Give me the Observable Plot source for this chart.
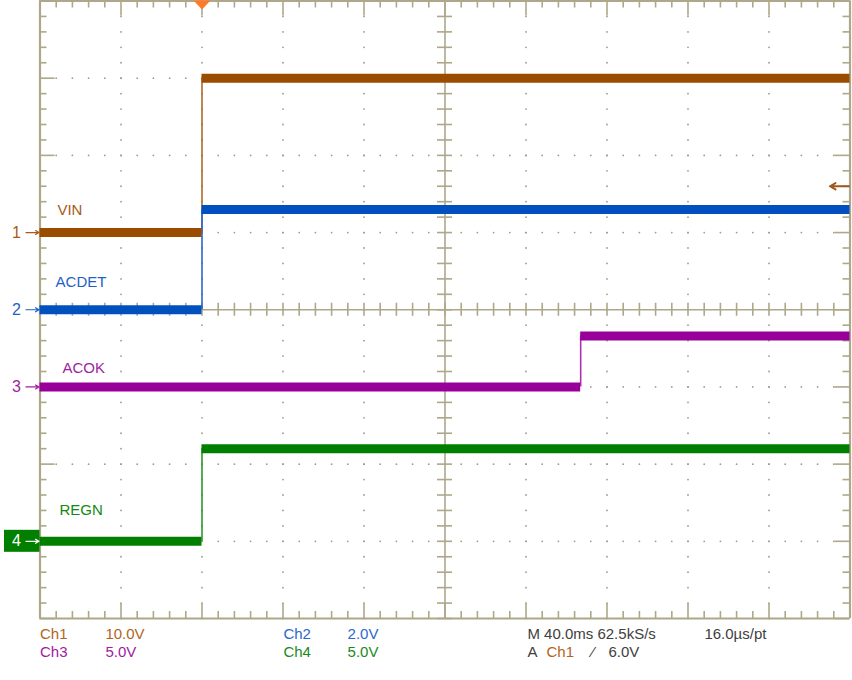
<!DOCTYPE html>
<html><head><meta charset="utf-8">
<script src="https://cdn.jsdelivr.net/npm/d3@7"></script>
<script src="https://cdn.jsdelivr.net/npm/@observablehq/plot@0.6"></script>
<style>body{margin:0;background:#fff}#chart svg{display:block}</style>
</head><body><div id="chart"></div>
<script>
// ---- data read from the oscilloscope capture ----
const channels      = ["VIN", "ACDET", "ACOK", "REGN"];
const channelNumber = [1, 2, 3, 4];
const voltsPerDiv   = [10.0, 2.0, 5.0, 5.0];
const lowVolts      = [0, 0, 0, 0];
const highVolts     = [20.0, 2.6, 3.3, 6.0];
const stepTimeMs    = [80, 80, 267, 80];
const timeRangeMs   = [0, 400];
const msPerDiv      = 40;
const triggerTimeMs = 80;
const triggerLevelV = 6.0;
const infoLine1 = ["Ch1", "10.0V", "Ch2", "2.0V", "M 40.0ms 62.5kS/s", "16.0\u00b5s/pt"];
const infoLine2 = ["Ch3", "5.0V", "Ch4", "5.0V", "A", "Ch1", "\u2044", "6.0V"];

// ---- layout / style ----
const offsetDiv   = [1, 0, -1, -3];
const traceColor  = ["#9a4c00", "#0050c0", "#990099", "#007f00"];
const edgeColor   = ["#b06a2c", "#2a68cc", "#b030b0", "#2a9a2a"];
const labelColor  = ["#a85a18", "#1f5fc8", "#a01fa0", "#108a10"];
const labelPos    = [[8.6, 0.29], [7.7, 0.36], [11.1, 0.24], [9.6, 0.40]];
const gridColor = "#aea789", dotColor = "#a39c80";
const W = 852, H = 680;
const mL = 39.5, mR = 2.5, mT = 0.5, mB = 62;
const pxX = (W - mL - mR) / (timeRangeMs[1] - timeRangeMs[0]); // px per ms
const pxY = (H - mT - mB) / 8;                                   // px per div

const rows = channels.map((name, i) => ({
  name, n: channelNumber[i], vpd: voltsPerDiv[i], low: lowVolts[i], high: highVolts[i],
  t: stepTimeMs[i], off: offsetDiv[i], color: traceColor[i], edge: edgeColor[i],
  lc: labelColor[i], lx: labelPos[i][0], ly: offsetDiv[i] + labelPos[i][1]
}));
const yLow = d => d.off + d.low / d.vpd;
const yHigh = d => d.off + d.high / d.vpd;

const T0 = timeRangeMs[0], T1 = timeRangeMs[1], TC = (T0 + T1) / 2;
const tickX = d3.range(0, 51).map(i => ({v: T0 + i * msPerDiv / 5, major: i % 5 === 0}));
const tickY = d3.range(0, 41).map(i => ({v: -4 + i * 0.2, major: i % 5 === 0}));
const lenX = d => (d.major ? 15 : 7) / pxY; // vertical tick length in div
const lenY = d => (d.major ? 15 : 7) / pxX; // horizontal tick length in ms

const dots = [];
for (let k = 1; k < 10; k++) if (k !== 5) for (const t of tickY) dots.push({x: T0 + k * msPerDiv, y: t.v});
for (let k = -3; k <= 3; k++) if (k !== 0) for (const t of tickX) dots.push({x: t.v, y: k});

const font = "'Liberation Sans', Arial, sans-serif";
const infoX1 = [0, 32.3, 120.2, 151.9, 240.7, 328.1];
const infoC1 = ["#b0651e", "#b0651e", "#2a68cc", "#2a68cc", "#404040", "#404040"];
const infoX2 = [0, 32.3, 120.2, 151.9, 240.7, 250.1, 272.5, 280.7];
const infoC2 = ["#a020a0", "#a020a0", "#1a8a1a", "#1a8a1a", "#404040", "#b0651e", "#404040", "#404040"];
const info = [
  ...infoLine1.map((s, i) => ({s, x: infoX1[i], y: -4.2, c: infoC1[i]})),
  ...infoLine2.map((s, i) => ({s, x: infoX2[i], y: -4.435, c: infoC2[i]}))
];

const trigSymbol = {draw(ctx) { ctx.moveTo(-8.5, -4.5); ctx.lineTo(8.5, -4.5); ctx.lineTo(0, 4.5); ctx.closePath(); }};
const ch1 = rows[0];
const trigLevelDiv = ch1.off + triggerLevelV / ch1.vpd;

const chart = Plot.plot({
  width: W, height: H,
  marginLeft: mL, marginRight: mR, marginTop: mT, marginBottom: mB,
  x: {domain: timeRangeMs, axis: null},
  y: {domain: [-4, 4], axis: null},
  color: {type: "identity"},
  style: {fontFamily: font, background: "#fff", overflow: "visible"},
  marks: [
    // dotted graticule
    Plot.dot(dots, {x: "x", y: "y", r: 0.9, fill: dotColor, stroke: null}),
    // center crosshair
    Plot.ruleX([TC], {stroke: gridColor, strokeWidth: 1.6}),
    Plot.ruleY([0], {stroke: gridColor, strokeWidth: 1.6}),
    Plot.ruleX(tickX, {x: "v", y1: -6.5 / pxY, y2: 6.5 / pxY, stroke: gridColor, strokeWidth: 1.6}),
    Plot.ruleY(tickY, {y: "v", x1: TC - 7.5 / pxX, x2: TC + 7.5 / pxX, stroke: gridColor, strokeWidth: 1.6}),
    // border ticks
    Plot.ruleX(tickX, {x: "v", y1: 4, y2: d => 4 - lenX(d), stroke: gridColor, strokeWidth: 1.6}),
    Plot.ruleX(tickX, {x: "v", y1: -4, y2: d => -4 + lenX(d), stroke: gridColor, strokeWidth: 1.6}),
    Plot.ruleY(tickY, {y: "v", x1: T0, x2: d => T0 + lenY(d), stroke: gridColor, strokeWidth: 1.6}),
    Plot.ruleY(tickY, {y: "v", x1: d => T1 - lenY(d), x2: T1, stroke: gridColor, strokeWidth: 1.6}),
    // border
    Plot.ruleX([T0, T1], {stroke: gridColor, strokeWidth: 2.2}),
    Plot.ruleY([-4, 4], {stroke: gridColor, strokeWidth: 2.2}),
    // traces
    Plot.ruleX(rows, {x: "t", y1: yLow, y2: yHigh, stroke: "edge", strokeWidth: 1.6}),
    Plot.ruleY(rows, {x1: T0, x2: "t", y: yLow, stroke: "color", strokeWidth: 9}),
    Plot.ruleY(rows, {x1: "t", x2: T1, y: yHigh, stroke: "color", strokeWidth: 9}),
    // trace labels
    Plot.text(rows, {x: "lx", y: "ly", text: "name", fill: "lc", textAnchor: "start", fontSize: 15}),
    // channel markers on the left
    Plot.rect(rows.filter(d => d.n === 4), {x1: T0 - 35.5 / pxX, x2: T0, y1: d => d.off - 11 / pxY, y2: d => d.off + 11 / pxY, fill: "color"}),
    Plot.arrow(rows, {x1: T0 - 14 / pxX, x2: T0 - 1 / pxX, y1: "off", y2: "off", stroke: d => d.n === 4 ? "#ffffff" : d.lc, strokeWidth: 1.2, headLength: 5}),
    Plot.text(rows, {x: T0 - 23.5 / pxX, y: "off", text: d => String(d.n), fill: d => d.n === 4 ? "#ffffff" : d.lc, fontSize: 16}),
    // trigger position marker (top) and trigger level marker (right)
    Plot.dot([triggerTimeMs], {x: d => d, y: 4, dy: 4, symbol: trigSymbol, fill: "#ff7a26", stroke: null}),
    Plot.arrow([trigLevelDiv], {x1: T1 - 1 / pxX, x2: T1 - 20 / pxX, y1: d => d, y2: d => d, stroke: "#a0561c", strokeWidth: 2, headLength: 8}),
    // info text under the graticule
    Plot.text(info, {x: "x", y: "y", text: "s", fill: "c", textAnchor: "start", fontSize: 15})
  ]
});
document.getElementById("chart").appendChild(chart);
</script>
</body></html>
